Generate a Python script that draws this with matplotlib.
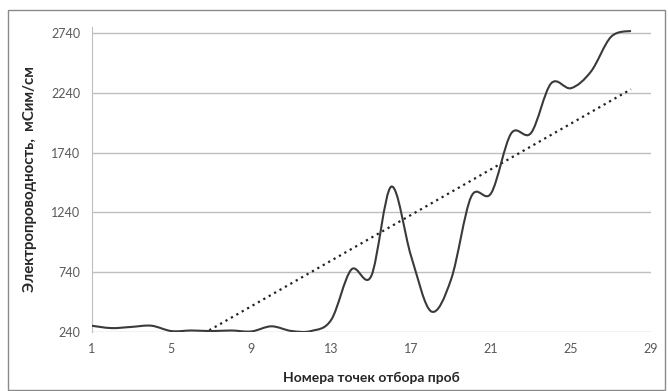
import numpy as np
import matplotlib
matplotlib.use("Agg")
import matplotlib.pyplot as plt
from matplotlib.path import Path
from matplotlib.patches import PathPatch, Rectangle

plt.rcParams['font.family'] = ['Lato', 'DejaVu Sans']

# sample points and conductivity values
points = np.arange(1, 29)
conductivity = [290, 270, 280, 290, 245, 250, 245, 250, 242, 285, 246, 246,
                340, 760, 706, 1455, 870, 410, 680, 1370, 1400, 1900, 1905,
                2320, 2280, 2420, 2710, 2760]
y_ticks = [240, 740, 1240, 1740, 2240, 2740]
x_ticks = [1, 5, 9, 13, 17, 21, 25, 29]

x_label = "Номера точек отбора проб"
y_label = "Электропроводность,  мСим/см"


def smooth_path(xs, ys):
    """Excel-style smoothed line: cubic bezier through every point."""
    xs = np.asarray(xs, float)
    ys = np.asarray(ys, float)
    verts = [(xs[0], ys[0])]
    codes = [Path.MOVETO]
    n = len(xs)
    for i in range(n - 1):
        p0 = i - 1 if i > 0 else i
        p3 = i + 2 if i + 2 < n else i + 1
        c1 = (xs[i] + (xs[i + 1] - xs[p0]) / 6, ys[i] + (ys[i + 1] - ys[p0]) / 6)
        c2 = (xs[i + 1] - (xs[p3] - xs[i]) / 6, ys[i + 1] - (ys[p3] - ys[i]) / 6)
        verts += [c1, c2, (xs[i + 1], ys[i + 1])]
        codes += [Path.CURVE4] * 3
    return Path(verts, codes)


fig = plt.figure(figsize=(6.68, 3.91), dpi=100)
ax = fig.add_axes([0.137, 0.1517, 0.8375, 0.78])

grid_c = "#bfbfbf"
for v in y_ticks:
    ax.axhline(v, color=grid_c, lw=1.0, zorder=1)

ax.add_patch(PathPatch(smooth_path(points, conductivity), fill=False,
                       edgecolor="#3a3a3a", lw=1.5, zorder=3))

# linear trend
k, b = np.polyfit(points, conductivity, 1)
ax.plot(points, k * points + b, color="#222222", lw=1.6, ls=(0, (1, 1.8)), zorder=2)

ax.set_xlim(1, 29)
ax.set_ylim(240, 2795)
ax.set_xticks(x_ticks)
ax.set_yticks(y_ticks)
ax.tick_params(length=0, labelsize=9, colors="#595959", pad=8)
for s in ["top", "right", "bottom"]:
    ax.spines[s].set_visible(False)
ax.spines["left"].set_color(grid_c)

ax.set_xlabel(x_label, fontsize=10, fontweight="bold", color="#262626", labelpad=12)
ax.set_ylabel(y_label, fontsize=10.8, fontweight="bold", color="#262626", labelpad=10)

# outer chart border
fig.patches.append(Rectangle((8 / 668, 0.003), 657 / 668, 1 - 10 / 391 - 0.003,
                             transform=fig.transFigure, fill=False,
                             edgecolor="#8a8a8a", lw=1.0))

fig.savefig("out.png", dpi=100)
